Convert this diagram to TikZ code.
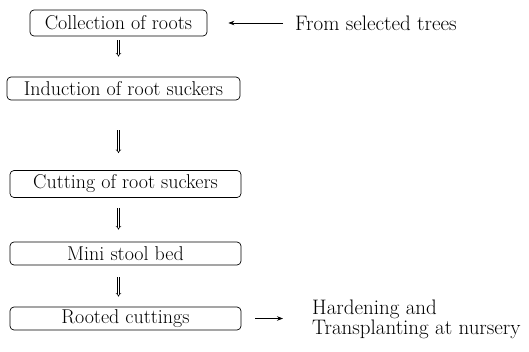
\documentclass[tikz,border=0pt]{standalone}
\usepackage{fontspec}
\usetikzlibrary{arrows.meta,positioning}

\begin{document}
\begin{tikzpicture}[x=1pt,y=-1pt,
    stage/.style={draw,rounded corners=4pt,line width=0.7pt,minimum height=25pt,inner sep=0pt,font=\fontsize{20}{24}\selectfont},
    flow/.style={double,double distance=1.4pt,line width=0.5pt,-{Implies}},
    side/.style={line width=0.7pt,-{Stealth[length=6pt,width=4.5pt]}},
    note/.style={inner sep=0pt,font=\fontsize{21}{24}\selectfont}]
    \useasboundingbox (0,0) rectangle (529,351);

    % Stages
    \node[stage,minimum width=177pt,minimum height=26pt] (roots) at (118.5,23) {Collection of roots};
    \node[stage,minimum width=233pt,minimum height=23pt] (induct) at (123.5,88.5) {Induction of root suckers};
    \node[stage,minimum width=231pt,minimum height=27pt] (cut) at (125.5,184) {Cutting of root suckers};
    \node[stage,minimum width=231pt,minimum height=23pt] (bed) at (125.5,253.5) {Mini stool bed};
    \node[stage,minimum width=231pt,minimum height=23pt] (rooted) at (125.5,318.5) {Rooted cuttings};

    % Flow between stages
    \draw[flow,shorten <=4pt,shorten >=20pt] (roots.south) -- (roots.south |- induct.north);
    \draw[flow,shorten <=30pt,shorten >=17pt] (roots.south |- induct.south) -- (roots.south |- cut.north);
    \draw[flow,shorten <=10pt,shorten >=12pt] (roots.south |- cut.south) -- (roots.south |- bed.north);
    \draw[flow,shorten <=12pt,shorten >=10pt] (roots.south |- bed.south) -- (roots.south |- rooted.north);

    % Source
    \node[note,anchor=west] (source) at (295,23) {From selected trees};
    \draw[side,shorten <=12pt,shorten >=21pt] (source.west) -- (roots.east);

    % Destination
    \node[note,anchor=west,align=left,font=\fontsize{21}{16.5}\selectfont] (dest) at (312,319) {Hardening and\\Transplanting at nursery};
    \draw[side,shorten <=14pt,shorten >=29pt] (rooted.east) -- (rooted.east -| dest.west);
\end{tikzpicture}
\end{document}
